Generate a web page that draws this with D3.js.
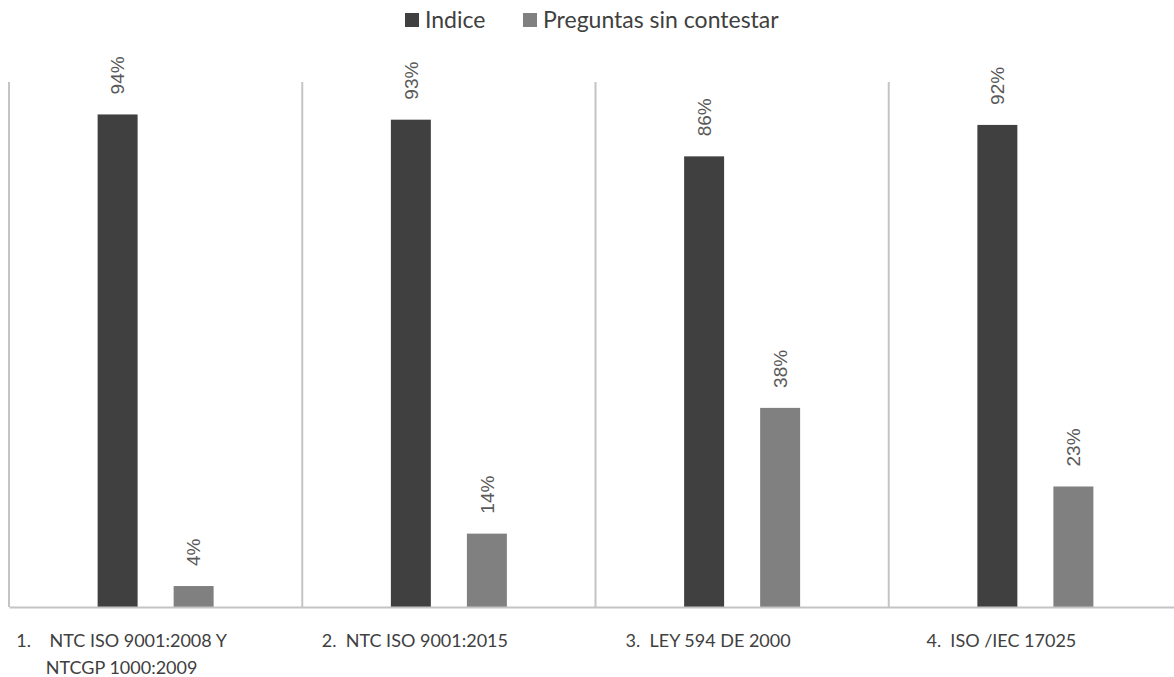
<!DOCTYPE html>
<html lang="es">
  <head>
    <meta charset="utf-8" />
    <title>Indice por norma</title>
    <style>
      body {
        margin: 0;
        background: #fff;
        overflow: hidden;
      }
      svg {
        display: block;
      }
      .cat-label {
        font-family: Lato, 'Open Sans', sans-serif;
        fill: #404040;
      }
      .val-label {
        font-family: 'Liberation Sans', Arial, sans-serif;
        fill: #595959;
      }
    </style>
  </head>
  <body>
    <div class="container"></div>
    <script src="https://cdn.jsdelivr.net/npm/d3@7"></script>
    <script>
      // data
      const categories = [
        ['1.    NTC ISO 9001:2008 Y', 'NTCGP 1000:2009'],
        ['2.  NTC ISO 9001:2015'],
        ['3.  LEY 594 DE 2000'],
        ['4.  ISO /IEC 17025'],
      ];
      const seriesNames = ['Indice', 'Preguntas sin contestar'];
      const indice = [0.94, 0.93, 0.86, 0.92];
      const sinContestar = [0.04, 0.14, 0.38, 0.23];
      const seriesColors = ['#404040', '#808080'];

      const width = 1174;
      const height = 677;
      const plot = { left: 9, right: 1182, top: 82, bottom: 607 };

      const svg = d3
        .select('div.container')
        .append('svg')
        .attr('width', width)
        .attr('height', height);

      const catKeys = categories.map((c, i) => i);
      const x0 = d3
        .scaleBand()
        .domain(catKeys)
        .range([plot.left, plot.right]);
      const bw = x0.bandwidth();
      const x1 = d3
        .scaleBand()
        .domain(seriesNames)
        .range([bw / 2 - 58, bw / 2 + 58])
        .paddingInner(0.474);
      const y = d3.scaleLinear().domain([0, 1]).range([plot.bottom, plot.top + 1]);

      // vertical separators between categories
      svg
        .append('g')
        .selectAll('line')
        .data(catKeys)
        .join('line')
        .attr('x1', (d) => x0(d))
        .attr('x2', (d) => x0(d))
        .attr('y1', plot.top)
        .attr('y2', plot.bottom)
        .attr('stroke', '#c4c4c4')
        .attr('stroke-width', 2);

      // bars
      const rows = catKeys.map((i) => ({
        cat: i,
        values: [
          { key: seriesNames[0], v: indice[i] },
          { key: seriesNames[1], v: sinContestar[i] },
        ],
      }));
      const color = d3.scaleOrdinal().domain(seriesNames).range(seriesColors);

      const groups = svg
        .append('g')
        .selectAll('g')
        .data(rows)
        .join('g')
        .attr('transform', (d) => `translate(${x0(d.cat)},0)`);

      groups
        .selectAll('rect')
        .data((d) => d.values)
        .join('rect')
        .attr('x', (d) => x1(d.key))
        .attr('width', x1.bandwidth())
        .attr('y', (d) => y(d.v))
        .attr('height', (d) => y(0) - y(d.v))
        .attr('fill', (d) => color(d.key));

      // rotated value labels
      groups
        .selectAll('text')
        .data((d) => d.values)
        .join('text')
        .attr('class', 'val-label')
        .attr(
          'transform',
          (d) =>
            `translate(${x1(d.key) + x1.bandwidth() / 2},${y(d.v) - 20}) rotate(-90)`,
        )
        .attr('dy', '0.35em')
        .style('font-size', '19px')
        .text((d) => Math.round(d.v * 100) + '%');

      // x axis line
      const axis = svg
        .append('g')
        .attr('transform', `translate(0,${plot.bottom})`)
        .call(d3.axisBottom(x0).tickSize(0).tickFormat(''));
      axis.select('.domain').attr('stroke', '#c4c4c4').attr('stroke-width', 2);

      // category labels
      const labels = svg
        .append('g')
        .selectAll('text')
        .data(catKeys)
        .join('text')
        .attr('class', 'cat-label')
        .attr('text-anchor', 'middle')
        .style('font-size', '18px')
        .attr('x', (d) => x0(d) + bw / 2 - 34)
        .attr('y', plot.bottom + 40);
      labels
        .selectAll('tspan')
        .data((d) => categories[d].map((t, j) => ({ t, j })))
        .join('tspan')
        .attr('x', function () {
          return d3.select(this.parentNode).attr('x');
        })
        .attr('dy', (d) => (d.j === 0 ? 0 : 27))
        .style('white-space', 'pre')
        .text((d) => d.t);

      // legend
      const legend = svg.append('g').attr('transform', 'translate(405,13)');
      const legendX = [0, 118];
      seriesNames.forEach((name, i) => {
        const it = legend.append('g').attr('transform', `translate(${legendX[i]},0)`);
        it.append('rect')
          .attr('width', 14)
          .attr('height', 14)
          .attr('fill', seriesColors[i]);
        it.append('text')
          .attr('class', 'cat-label')
          .attr('x', 20)
          .attr('y', 7)
          .attr('dy', '0.35em')
          .style('font-size', '23px')
          .text(name);
      });
    </script>
  </body>
</html>
